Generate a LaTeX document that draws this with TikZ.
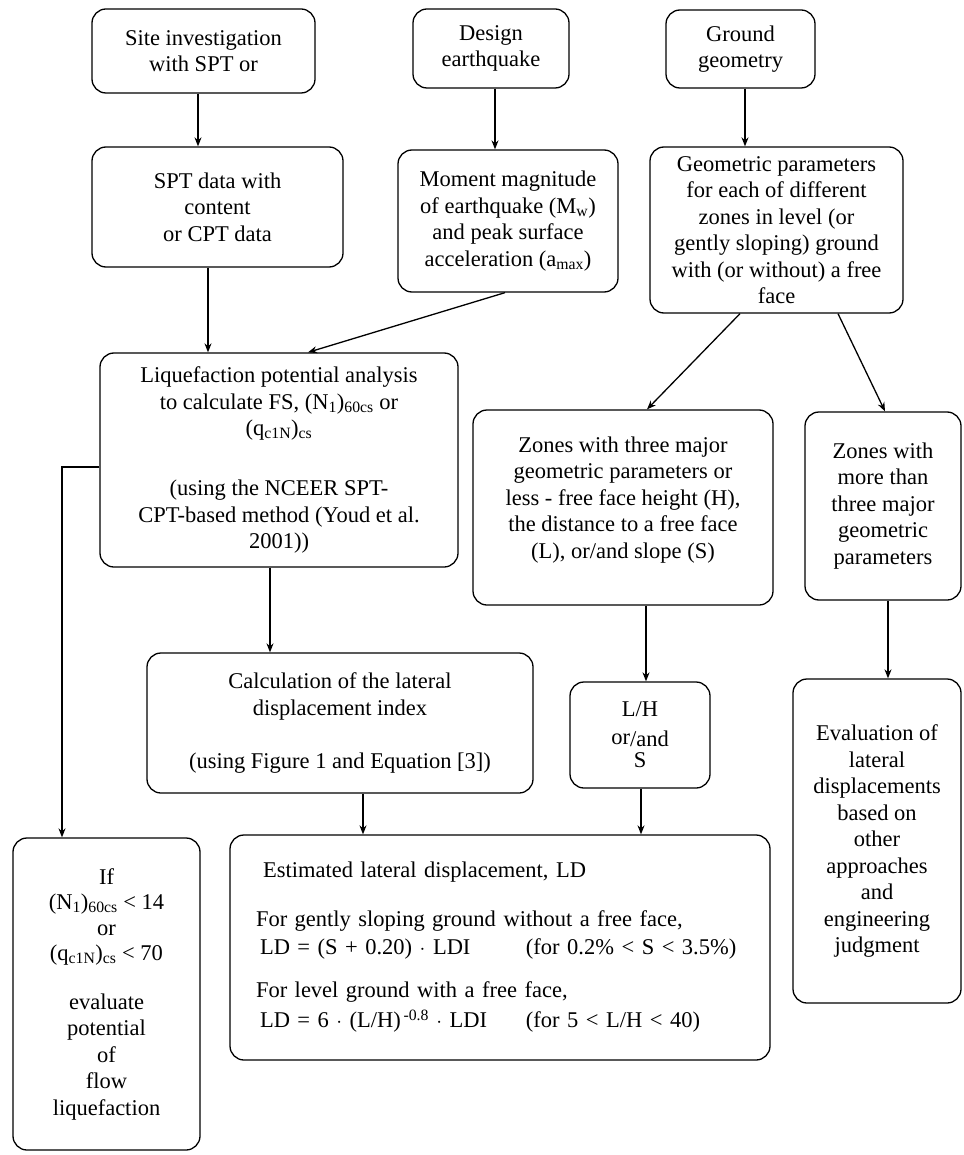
\documentclass[tikz,border=0pt]{standalone}
\usepackage{fontspec}
\setmainfont{Liberation Serif}
\usetikzlibrary{arrows.meta}
\tikzset{
  box/.style={draw, line width=1.3pt, rounded corners=14pt, align=center, inner sep=0pt,
    font=\fontsize{22.5}{26.5}\selectfont},
  arr/.style={line width=1.3pt, -{Stealth[length=9pt,width=7pt]}}
}
\begin{document}
\begin{tikzpicture}[x=1pt,y=-1pt]
\useasboundingbox[fill=white] (0,0) rectangle (963,1155);
% boxes
\node[box, minimum width=223pt, minimum height=84pt] (site) at (203.5,51) {Site investigation\\with SPT or};
\node[box, minimum width=251pt, minimum height=120pt] (spt) at (217.5,207) {SPT data with\\content\\or CPT data};
\node[box, minimum width=156pt, minimum height=79pt] (design) at (491,48.5) {Design\\earthquake};
\node[box, minimum width=220pt, minimum height=142pt] (moment) at (508,221) {Moment magnitude\\of earthquake (M\textsubscript{w})\\and peak surface\\acceleration (a\textsubscript{max})};
\node[box, minimum width=149pt, minimum height=78pt] (ground) at (740.5,49) {Ground\\geometry};
\node[box, minimum width=253pt, minimum height=166pt] (geom) at (776.5,230) {Geometric parameters\\for each of different\\zones in level (or\\gently sloping) ground\\with (or without) a free\\face};
\node[box, minimum width=358pt, minimum height=214pt] (liq) at (279,460) {Liquefaction potential analysis\\to calculate FS, (N\textsubscript{1})\textsubscript{60cs} or\\(q\textsubscript{c1N})\textsubscript{cs}\\[7pt] \\(using the NCEER SPT-\\CPT-based method (Youd et al.\\2001))};
\node[box, minimum width=300pt, minimum height=195pt] (zthree) at (623,507.5) {Zones with three major\\geometric parameters or\\less - free face height (H),\\the distance to a free face\\(L), or/and slope (S)\\[-6pt] \mbox{}};
\node[box, minimum width=156pt, minimum height=188pt] (zmore) at (883,506) {Zones with\\more than\\three major\\geometric\\parameters};
\node[box, minimum width=386pt, minimum height=140pt] (calc) at (340,723) {Calculation of the lateral\\displacement index\\ \\(using Figure 1 and Equation [3])};
\node[box, minimum width=140pt, minimum height=106pt] (lh) at (640,735) {L/H\\[1pt] or\raisebox{-2pt}{/and}\\[-3pt] S};
\node[box, minimum width=168pt, minimum height=324pt] (eval) at (877,841) {Evaluation of\\lateral\\displacements\\based on\\other\\approaches\\and\\engineering\\judgment};
\node[box, minimum width=540pt, minimum height=225pt, align=left, text width=488pt] (ld) at (500,947.5)
  {\hspace*{7pt}Estimated lateral displacement, LD\\[22pt]
   For gently sloping ground without a free face,\\[2pt]
   \hspace*{4pt}\makebox[266pt][l]{LD = (S + 0.20) $\cdot$ LDI}(for 0.2\% < S < 3.5\%)\\[16pt]
   For level ground with a free face,\\[4pt]
   \hspace*{4pt}\makebox[266pt][l]{LD = 6 $\cdot$ (L/H)\textsuperscript{\,-0.8} $\cdot$ LDI}(for 5 < L/H < 40)};
\node[box, minimum width=187pt, minimum height=312pt] (flow) at (106.5,994) {If\\[-1pt] (N\textsubscript{1})\textsubscript{60cs} < 14\\[-1pt] or\\[-1pt] (q\textsubscript{c1N})\textsubscript{cs} < 70\\[22pt] evaluate\\ potential\\ of\\ flow\\ liquefaction};
% helper x positions
\coordinate (v1) at (198,0);
\coordinate (v2) at (208,0);
\coordinate (v3) at (495,0);
\coordinate (v4) at (745,0);
\coordinate (v5) at (270,0);
\coordinate (v6) at (646,0);
\coordinate (v7) at (888,0);
\coordinate (v8) at (363,0);
\coordinate (v9) at (641,0);
\coordinate (ma) at (505,0);
\coordinate (mb) at (308,0);
\coordinate (g1) at (740,0);
\coordinate (g2) at (647,0);
\coordinate (g3) at (838,0);
\coordinate (g4) at (885,0);
\coordinate (c1) at (62,467);
% connectors
\draw[arr] (site.south -| v1) -- (spt.north -| v1);
\draw[arr] (spt.south -| v2) -- (liq.north -| v2);
\draw[arr] (design.south -| v3) -- (moment.north -| v3);
\draw[arr] (moment.south -| ma) -- (liq.north -| mb);
\draw[arr] (ground.south -| v4) -- (geom.north -| v4);
\draw[arr] (geom.south -| g1) -- (zthree.north -| g2);
\draw[arr] (geom.south -| g3) -- (zmore.north -| g4);
\draw[arr] (liq.south -| v5) -- (calc.north -| v5);
\draw[arr] (c1 -| liq.west) -- (c1) -- (c1 |- flow.north);
\draw[arr] (zthree.south -| v6) -- (lh.north -| v6);
\draw[arr] (zmore.south -| v7) -- (eval.north -| v7);
\draw[arr] (calc.south -| v8) -- (ld.north -| v8);
\draw[arr] (lh.south -| v9) -- (ld.north -| v9);
\end{tikzpicture}
\end{document}
